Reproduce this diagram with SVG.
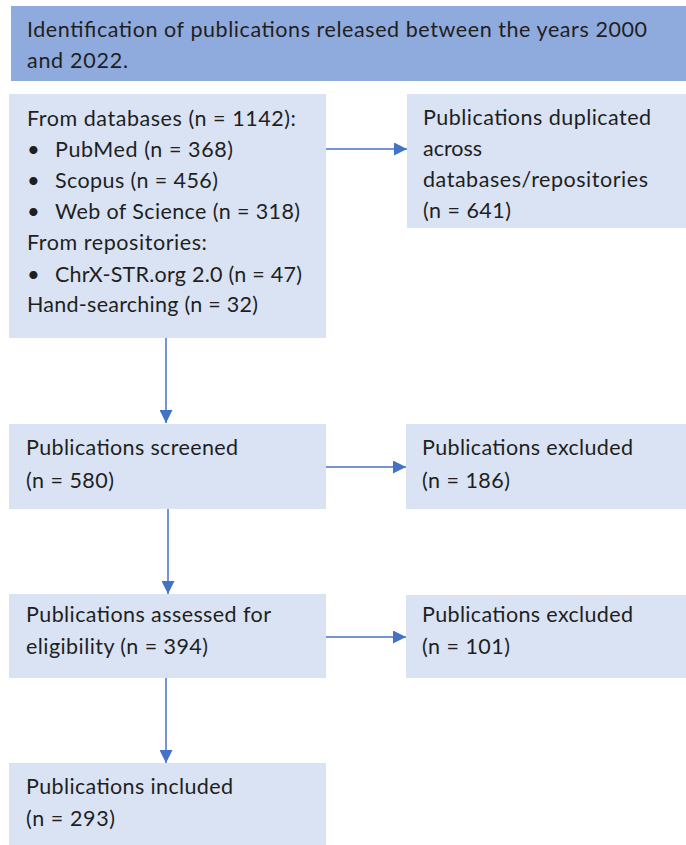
<svg xmlns="http://www.w3.org/2000/svg" width="686" height="845" viewBox="0 0 686 845">
<style>
.box{fill:#DAE3F3}
.head{fill:#8FAADC}
text{font-family:Lato,"Open Sans","Liberation Sans",sans-serif;font-size:21.5px;fill:#1f1f1f}
.bul{font-size:22px}
.ln{stroke:#4472C4;stroke-width:1.5;fill:none}
</style>
<defs>
<marker id="av" viewBox="0 0 10 10" refX="10" refY="5" markerWidth="13" markerHeight="13" markerUnits="userSpaceOnUse" orient="auto"><path d="M0,0 L10,5 L0,10 Z" fill="#4472C4"/></marker>
</defs>
<rect width="686" height="845" fill="#ffffff"/>
<g id="identification">
<rect class="head" x="11" y="6" width="675" height="75"/>
<text x="27" y="37" textLength="620">Identification of publications released between the years 2000</text>
<text x="27" y="68" textLength="101">and 2022.</text>
</g>
<g id="sources">
<rect class="box" x="9" y="94" width="317" height="244"/>
<text x="27" y="126" textLength="269">From databases (n = 1142):</text>
<text class="bul" x="27" y="157">•</text><text x="55" y="157" textLength="178">PubMed (n = 368)</text>
<text class="bul" x="27" y="188">•</text><text x="55" y="188" textLength="163">Scopus (n = 456)</text>
<text class="bul" x="27" y="219">•</text><text x="55" y="219" textLength="245">Web of Science (n = 318)</text>
<text x="27" y="250" textLength="180">From repositories:</text>
<text class="bul" x="27" y="282">•</text><text x="55" y="282" textLength="247">ChrX-STR.org 2.0 (n = 47)</text>
<text x="27" y="312" textLength="231">Hand-searching (n = 32)</text>
</g>
<g id="duplicated">
<rect class="box" x="407" y="94" width="279" height="134"/>
<text x="423" y="125" textLength="228">Publications duplicated</text>
<text x="423" y="156">across</text>
<text x="423" y="187" textLength="225">databases/repositories</text>
<text x="423" y="218" textLength="88">(n = 641)</text>
</g>
<g id="screened">
<rect class="box" x="9" y="424" width="317" height="85"/>
<text x="26" y="455" textLength="212">Publications screened</text>
<text x="26" y="488" textLength="88">(n = 580)</text>
</g>
<g id="excluded1">
<rect class="box" x="406" y="424" width="280" height="85"/>
<text x="422" y="455" textLength="211">Publications excluded</text>
<text x="422" y="488" textLength="88">(n = 186)</text>
</g>
<g id="assessed">
<rect class="box" x="9" y="594" width="317" height="84"/>
<text x="26" y="622" textLength="245">Publications assessed for</text>
<text x="26" y="654" textLength="182">eligibility (n = 394)</text>
</g>
<g id="excluded2">
<rect class="box" x="406" y="595" width="280" height="83"/>
<text x="422" y="622" textLength="211">Publications excluded</text>
<text x="422" y="654" textLength="88">(n = 101)</text>
</g>
<g id="included">
<rect class="box" x="9" y="763" width="317" height="82"/>
<text x="26" y="794" textLength="207">Publications included</text>
<text x="26" y="826" textLength="89">(n = 293)</text>
</g>
<g id="connectors">
<line class="ln" x1="326" y1="149" x2="407" y2="149" marker-end="url(#av)"/>
<line class="ln" x1="166" y1="338" x2="166" y2="423" marker-end="url(#av)"/>
<line class="ln" x1="326" y1="467" x2="406" y2="467" marker-end="url(#av)"/>
<line class="ln" x1="168" y1="509" x2="168" y2="594" marker-end="url(#av)"/>
<line class="ln" x1="326" y1="637" x2="406" y2="637" marker-end="url(#av)"/>
<line class="ln" x1="166" y1="678" x2="166" y2="763" marker-end="url(#av)"/>
</g>
</svg>
